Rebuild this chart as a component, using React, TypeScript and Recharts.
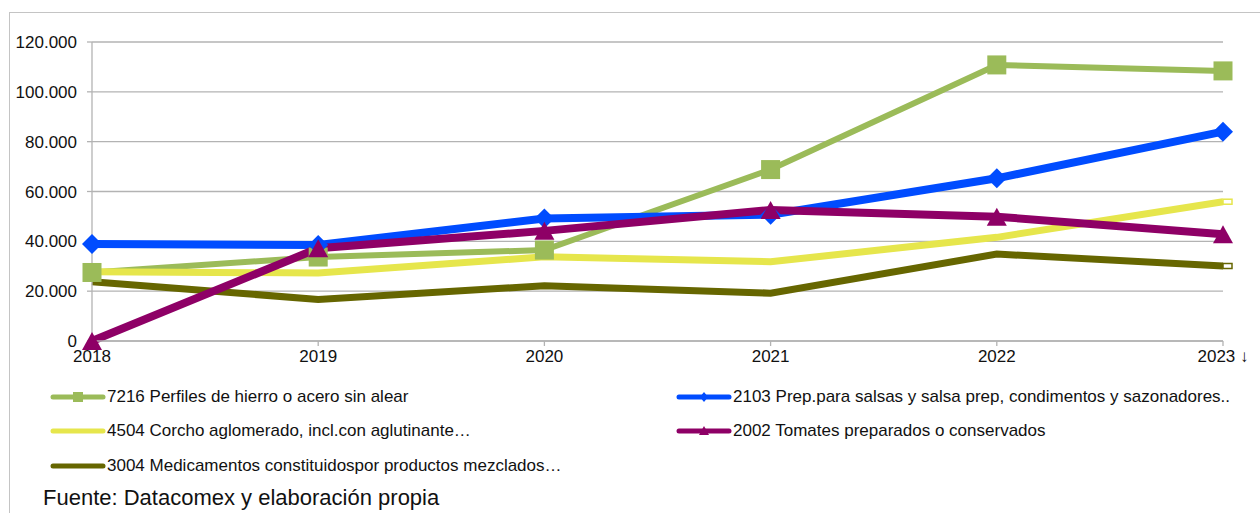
import { CartesianGrid, Line, LineChart, XAxis, YAxis } from "recharts";

const years = ["2018", "2019", "2020", "2021", "2022", "2023"];
const yearLabels = ["2018", "2019", "2020", "2021", "2022", "2023 ↓"];
const yTicks = [0, 20000, 40000, 60000, 80000, 100000, 120000];

const perfiles7216 = [27500, 33700, 36500, 68800, 110800, 108400];
const salsas2103 = [38900, 38500, 49200, 50700, 65300, 84000];
const corcho4504 = [27800, 27300, 33800, 31800, 41600, 55900];
const tomates2002 = [0, 37200, 44200, 52600, 49900, 42800];
const medicamentos3004 = [23800, 16700, 22200, 19200, 34900, 30100];

const data = years.map((year, i) => ({
  year,
  label: yearLabels[i],
  p7216: perfiles7216[i],
  p2103: salsas2103[i],
  p4504: corcho4504[i],
  p2002: tomates2002[i],
  p3004: medicamentos3004[i],
}));

const FONT = "'Liberation Sans', Arial, sans-serif";
const GRID = "#b3b3b3";

if (typeof document !== "undefined") document.body.style.margin = "0";

const fmt = (v: number) => v.toLocaleString("de-DE");

function squareDot(color: string, size: number) {
  return (props: any) => {
    const { cx, cy, index } = props;
    return <rect key={`sq-${index}`} x={cx - size / 2} y={cy - size / 2} width={size} height={size} fill={color} />;
  };
}

function diamondDot(color: string, r: number) {
  return (props: any) => {
    const { cx, cy, index } = props;
    return (
      <polygon
        key={`dm-${index}`}
        points={`${cx},${cy - r} ${cx + r},${cy} ${cx},${cy + r} ${cx - r},${cy}`}
        fill={color}
      />
    );
  };
}

function triangleDot(color: string, w: number) {
  return (props: any) => {
    const { cx, cy, index } = props;
    const h = w * 0.9;
    return (
      <polygon
        key={`tr-${index}`}
        points={`${cx},${cy - h / 2} ${cx + w / 2},${cy + h / 2} ${cx - w / 2},${cy + h / 2}`}
        fill={color}
      />
    );
  };
}

// tiny dash marker, only visible at the last point
function endDot(color: string) {
  return (props: any) => {
    const { cx, cy, index } = props;
    if (index !== years.length - 1) return <g key={`ed-${index}`} />;
    return (
      <rect
        key={`ed-${index}`}
        x={cx}
        y={cy - 2.5}
        width={9}
        height={5}
        fill="#fff"
        stroke={color}
        strokeWidth={1.5}
      />
    );
  };
}

const legendItems = [
  { name: "7216 Perfiles de hierro o acero sin alear", color: "#9bbb59", marker: "square", x: 50, y: 397 },
  { name: "2103 Prep.para salsas y salsa prep, condimentos y sazonadores..", color: "#004cff", marker: "diamond", x: 676, y: 397 },
  { name: "4504 Corcho aglomerado, incl.con aglutinante…", color: "#e6e64c", marker: "none", x: 50, y: 431 },
  { name: "2002 Tomates preparados o conservados", color: "#8e0066", marker: "triangle", x: 676, y: 431 },
  { name: "3004 Medicamentos constituidospor productos mezclados…", color: "#666600", marker: "none", x: 50, y: 466 },
];

function LegendIcon({ color, marker }: { color: string; marker: string }) {
  return (
    <svg width={56} height={12} style={{ display: "block" }}>
      <line x1={3} y1={6} x2={53} y2={6} stroke={color} strokeWidth={5} strokeLinecap="round" />
      {marker === "square" && <rect x={23} y={1} width={10} height={10} fill={color} />}
      {marker === "diamond" && <polygon points="28,1 32,6 28,11 24,6" fill={color} />}
      {marker === "triangle" && <polygon points="28,1 33,10 23,10" fill={color} />}
    </svg>
  );
}

export default function App() {
  return (
    <div style={{ position: "relative", width: 1260, height: 513, overflow: "hidden", background: "#fff", fontFamily: FONT }}>
      <div
        style={{
          position: "absolute",
          left: 9,
          top: 12,
          width: 1400,
          height: 700,
          border: "1px solid #c4c4c4",
        }}
      />
      <div style={{ position: "absolute", left: 0, top: 0 }}>
        <LineChart width={1260} height={513} data={data} margin={{ top: 42, right: 37, left: 12, bottom: 142 }}>
          <CartesianGrid stroke={GRID} strokeWidth={1.3} vertical={false} />
          <XAxis
            dataKey="label"
            stroke={GRID}
            strokeWidth={1.3}
            tickSize={5}
            height={30}
            tick={{ fill: "#111", fontSize: 17, fontFamily: FONT }}
            tickMargin={4}
            interval={0}
          />
          <YAxis
            domain={[0, 120000]}
            ticks={yTicks}
            tickFormatter={fmt}
            stroke={GRID}
            strokeWidth={1.3}
            tickSize={5}
            width={80}
            tickMargin={10}
            tick={{ fill: "#111", fontSize: 17, fontFamily: FONT }}
          />
          <Line
            dataKey="p7216"
            stroke="#9bbb59"
            strokeWidth={6}
            dot={squareDot("#9bbb59", 19)}
            activeDot={false}
            isAnimationActive={false}
          />
          <Line
            dataKey="p4504"
            stroke="#e6e64c"
            strokeWidth={7}
            dot={endDot("#e6e64c")}
            activeDot={false}
            isAnimationActive={false}
          />
          <Line
            dataKey="p3004"
            stroke="#666600"
            strokeWidth={7}
            dot={endDot("#666600")}
            activeDot={false}
            isAnimationActive={false}
          />
          <Line
            dataKey="p2103"
            stroke="#004cff"
            strokeWidth={8}
            dot={diamondDot("#004cff", 10)}
            activeDot={false}
            isAnimationActive={false}
          />
          <Line
            dataKey="p2002"
            stroke="#8e0066"
            strokeWidth={8}
            dot={triangleDot("#8e0066", 20)}
            activeDot={false}
            isAnimationActive={false}
          />
        </LineChart>
      </div>
      {legendItems.map((item) => (
        <div
          key={item.name}
          style={{
            position: "absolute",
            left: item.x,
            top: item.y - 11,
            height: 22,
            display: "flex",
            alignItems: "center",
            gap: 1,
            fontSize: 17,
            color: "#111",
            whiteSpace: "nowrap",
          }}
        >
          <LegendIcon color={item.color} marker={item.marker} />
          <span>{item.name}</span>
        </div>
      ))}
      <div style={{ position: "absolute", left: 43, top: 485, fontSize: 22, lineHeight: "26px", color: "#111", whiteSpace: "nowrap" }}>
        Fuente: Datacomex y elaboración propia
      </div>
    </div>
  );
}
